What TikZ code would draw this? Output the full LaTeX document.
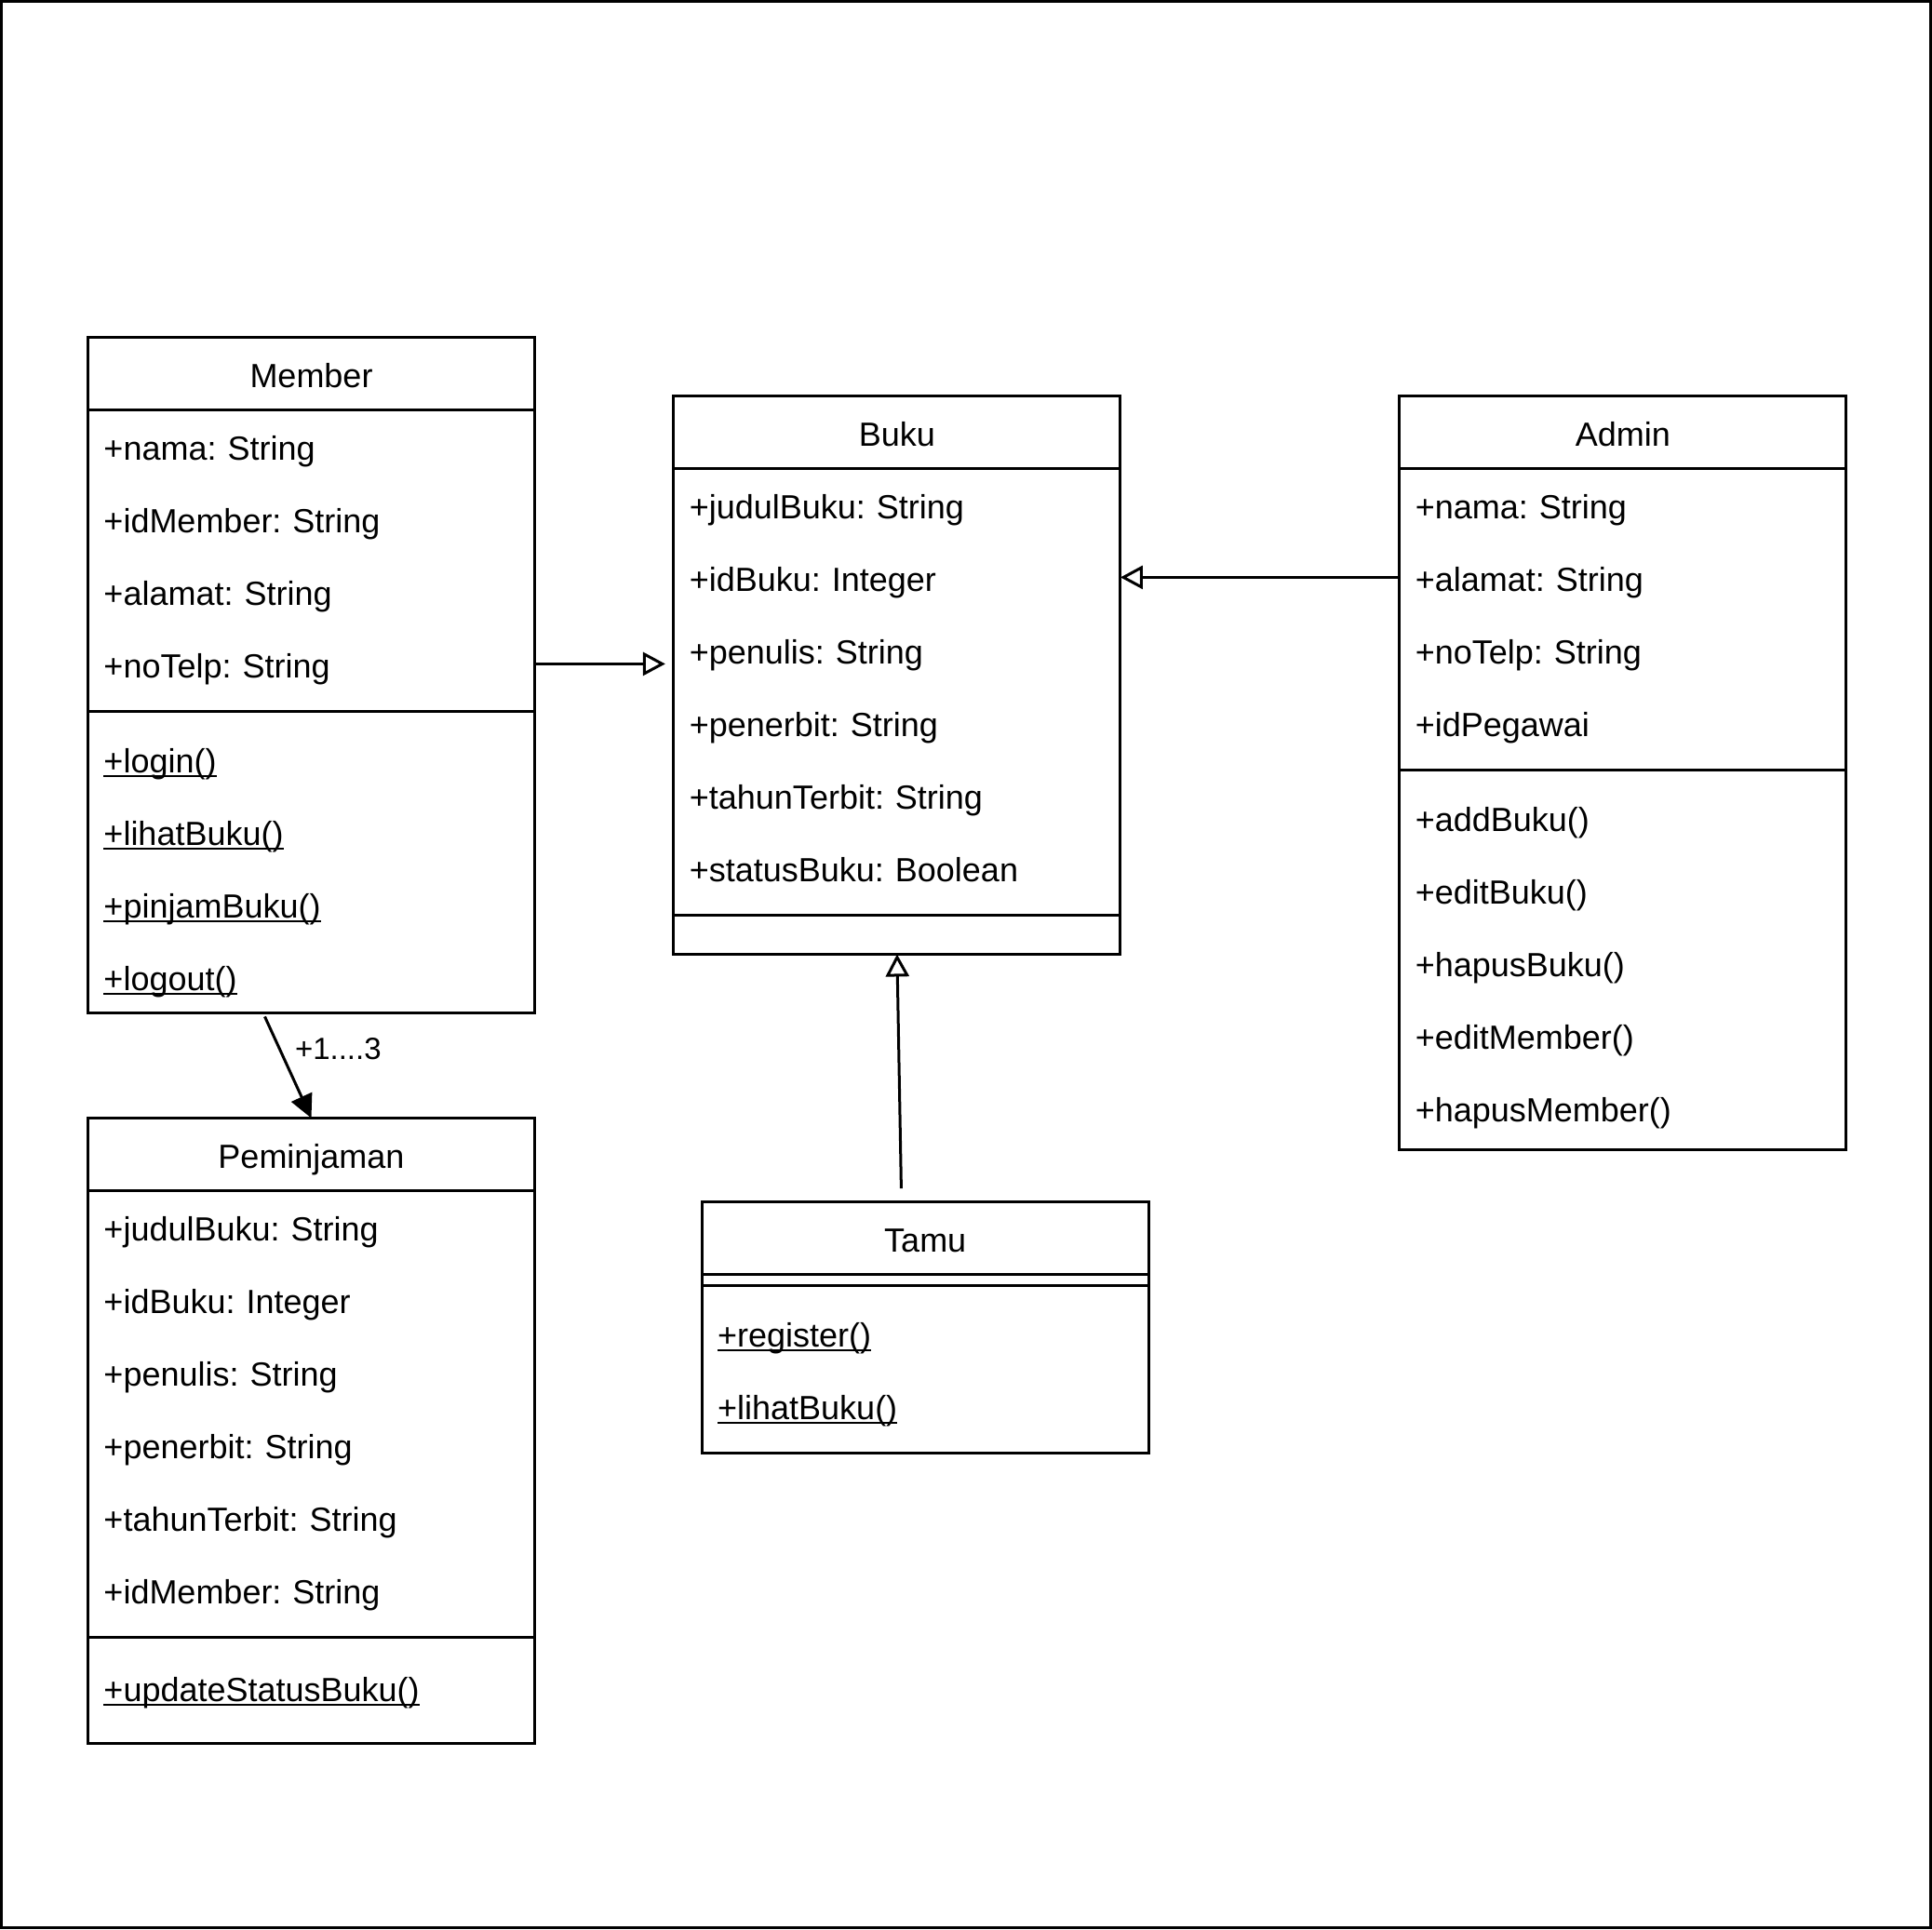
\documentclass[tikz,border=0pt]{standalone}
\usepackage{fontspec}
\setmainfont{Liberation Sans}
\usetikzlibrary{positioning, arrows.meta}
\frenchspacing

\newcommand{\umlfont}{\fontsize{10.24pt}{0.78cm}\selectfont}
\newcommand{\rowstrut}{\rule[-0.24cm]{0pt}{0.78cm}}
\newcommand{\attr}[1]{\rowstrut#1}
\newcommand{\meth}[1]{\rowstrut\setbox0\hbox{#1}\rlap{\rule[-0.045cm]{\wd0}{0.02cm}}\box0}
\newcommand{\padtop}[1]{\rule{0pt}{\dimexpr0.54cm+#1\relax}}
\newcommand{\padbot}[1]{\rule[\dimexpr-0.24cm-#1\relax]{0pt}{\dimexpr0.24cm+#1\relax}}

\begin{document}
\begin{tikzpicture}[
			x=0.03cm, y=-0.03cm,
			line width=0.03cm,
			classhead/.style={
				draw,
				minimum width=4.8cm,
				minimum height=0.78cm,
				inner sep=0pt,
				outer sep=0pt,
				font=\umlfont
			},
			compart/.style={
				draw,
				text width=4.46cm,
				inner xsep=0.17cm,
				inner ysep=0pt,
				outer sep=0pt,
				align=left,
				font=\umlfont
			},
			gen/.style={
				line width=0.03cm,
				-{Triangle[open, length=0.24cm, width=0.25cm]}
			},
			assoc/.style={
				line width=0.03cm,
				-{Triangle[length=0.25cm, width=0.24cm]}
			}
		]
			\useasboundingbox (0,0) rectangle (692,691);
			\draw (0.5,0.5) rectangle (691.5,690.5);

			\node[classhead, anchor=north west] (member) at (31.5,120.8) {\rowstrut Member};
			\node[compart, below=0pt of member] (memattr) {\attr{+nama: String}\\\attr{+idMember: String}\\\attr{+alamat: String}\\\attr{+noTelp: String}\padbot{0.12cm}};
			\node[compart, below=0pt of memattr] (memmeth) {\padtop{0.12cm}\meth{+login()}\\\meth{+lihatBuku()}\\\meth{+pinjamBuku()}\\\meth{+logout()}};

			\node[classhead, anchor=north west] (buku) at (241.3,141.8) {\rowstrut Buku};
			\node[compart, below=0pt of buku] (bukuattr) {\attr{+judulBuku: String}\\\attr{+idBuku: Integer}\\\attr{+penulis: String}\\\attr{+penerbit: String}\\\attr{+tahunTerbit: String}\\\attr{+statusBuku: Boolean}\padbot{0.12cm}};
			\node[compart, below=0pt of bukuattr, minimum height=0.42cm] (bukumeth) {};

			\node[classhead, anchor=north west] (admin) at (501.3,141.8) {\rowstrut Admin};
			\node[compart, below=0pt of admin] (admattr) {\attr{+nama: String}\\\attr{+alamat: String}\\\attr{+noTelp: String}\\\attr{+idPegawai}\padbot{0.12cm}};
			\node[compart, below=0pt of admattr] (admmeth) {\padtop{0.12cm}\attr{+addBuku()}\\\attr{+editBuku()}\\\attr{+hapusBuku()}\\\attr{+editMember()}\\\attr{+hapusMember()}\padbot{0.06cm}};

			\node[classhead, anchor=north west] (pinjam) at (31.5,400.5) {\rowstrut Peminjaman};
			\node[compart, below=0pt of pinjam] (pinjattr) {\attr{+judulBuku: String}\\\attr{+idBuku: Integer}\\\attr{+penulis: String}\\\attr{+penerbit: String}\\\attr{+tahunTerbit: String}\\\attr{+idMember: String}\padbot{0.12cm}};
			\node[compart, below=0pt of pinjattr] (pinjmeth) {\padtop{0.15cm}\meth{+updateStatusBuku()}\padbot{0.21cm}};

			\node[classhead, anchor=north west] (tamu) at (251.4,430.5) {\rowstrut Tamu};
			\node[compart, below=0pt of tamu, minimum height=0.12cm] (tamuattr) {};
			\node[compart, below=0pt of tamuattr] (tamumeth) {\padtop{0.12cm}\meth{+register()}\\\meth{+lihatBuku()}\padbot{0.12cm}};

			\coordinate (memout) at ([yshift=0.51cm]memattr.south east);
			\coordinate (admout) at ([yshift=-1.17cm]admattr.north west);
			\coordinate (tamuout) at ([shift={(-0.258cm,0.144cm)}]tamu.north);
			\coordinate (pinjout) at ([shift={(-0.5cm,-0.04cm)}]memmeth.south);

			\draw[gen, shorten >=0.09cm] (memout) -- (memout -| bukuattr.west);
			\draw[gen] (admout) -- (admout -| bukuattr.east);
			\draw[gen] (tamuout) -- (bukumeth.south);

			\draw[assoc] (pinjout) -- node[pos=0.32, anchor=west, inner sep=0.15cm, font=\fontsize{9.39pt}{11pt}\selectfont] (mult) {+1....3} (pinjam.north);

		\end{tikzpicture}
\end{document}
